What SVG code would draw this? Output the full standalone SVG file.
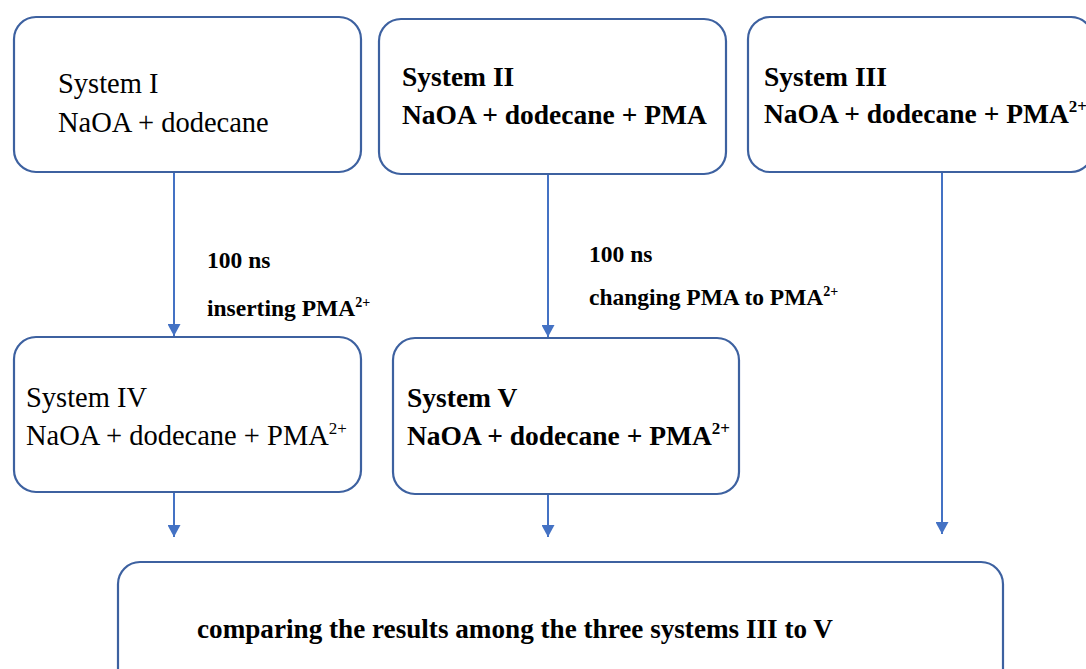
<svg xmlns="http://www.w3.org/2000/svg" width="1086" height="669" viewBox="0 0 1086 669">
<style>
.box{fill:#fff;stroke:#3d61a0;stroke-width:2.2}
.t{font-family:"Liberation Serif","Times New Roman",serif;fill:#000}
.r{font-size:28.5px}
.b{font-size:27.5px;font-weight:bold}
.lab{font-size:23.5px;font-weight:bold}
.sup{font-size:17px}
.supl{font-size:14px}
.c{stroke:#4472c4;stroke-width:2;fill:none}
</style>
<defs>
<marker id="ah" viewBox="0 0 12 13" refX="12" refY="6.5" markerWidth="12" markerHeight="13" markerUnits="userSpaceOnUse" orient="auto">
<path d="M0,0 L12,6.5 L0,13 Z" fill="#4472c4"/>
</marker>
</defs>
<rect width="1086" height="669" fill="#fff"/>
<g id="connectors">
<line class="c" x1="174" y1="172" x2="174" y2="336" marker-end="url(#ah)"/>
<line class="c" x1="548" y1="174" x2="548" y2="337" marker-end="url(#ah)"/>
<line class="c" x1="942" y1="172" x2="942" y2="534" marker-end="url(#ah)"/>
<line class="c" x1="174" y1="492" x2="174" y2="537" marker-end="url(#ah)"/>
<line class="c" x1="548" y1="494" x2="548" y2="537" marker-end="url(#ah)"/>
</g>
<g id="label1">
<text class="t lab" x="207" y="268">100 ns</text>
<text class="t lab" x="207" y="316">inserting PMA<tspan class="supl" dy="-9">2+</tspan></text>
</g>
<g id="label2">
<text class="t lab" x="589" y="262">100 ns</text>
<text class="t lab" x="589" y="305">changing PMA to PMA<tspan class="supl" dy="-9">2+</tspan></text>
</g>
<g id="system1">
<rect class="box" x="14" y="17" width="347" height="155" rx="22"/>
<text class="t r" x="58" y="93">System I</text>
<text class="t r" x="58" y="132">NaOA + dodecane</text>
</g>
<g id="system2">
<rect class="box" x="379" y="19" width="347" height="155" rx="22"/>
<text class="t b" x="402" y="86">System II</text>
<text class="t b" x="402" y="124">NaOA + dodecane + PMA</text>
</g>
<g id="system3">
<rect class="box" x="748" y="17" width="345" height="155" rx="22"/>
<text class="t b" x="764" y="86">System III</text>
<text class="t b" x="764" y="123">NaOA + dodecane + PMA<tspan class="sup" dy="-11">2+</tspan></text>
</g>
<g id="system4">
<rect class="box" x="14" y="337" width="347" height="155" rx="22"/>
<text class="t r" x="26" y="407">System IV</text>
<text class="t r" x="26" y="445">NaOA + dodecane + PMA<tspan class="sup" dy="-11">2+</tspan></text>
</g>
<g id="system5">
<rect class="box" x="393" y="338" width="346" height="156" rx="22"/>
<text class="t b" x="407" y="407">System V</text>
<text class="t b" x="407" y="445">NaOA + dodecane + PMA<tspan class="sup" dy="-11">2+</tspan></text>
</g>
<g id="compare">
<rect class="box" x="118" y="562" width="885" height="130" rx="22"/>
<text class="t" x="197" y="638" font-size="27" font-weight="bold" textLength="636" lengthAdjust="spacingAndGlyphs">comparing the results among the three systems III to V</text>
</g>
</svg>
